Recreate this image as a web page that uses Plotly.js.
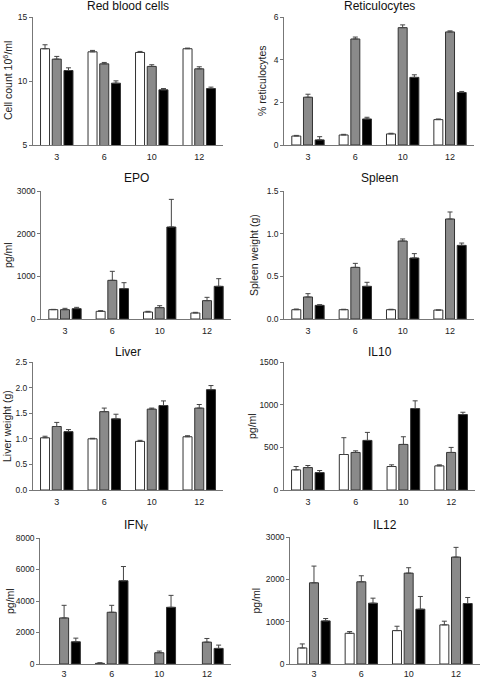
<!DOCTYPE html>
<html>
<head>
<meta charset="utf-8">
<script src="https://cdn.plot.ly/plotly-3.0.1.min.js"></script>
<style>html,body{margin:0;padding:0;background:#fff;}#chart{width:480px;height:677px;}</style>
</head>
<body>
<div id="chart"></div>
<script>
const categories = ['3', '6', '10', '12'];
const seriesNames = ['Control', 'Group 2', 'Group 3'];

// means / upper errors, rows: white, gray, black
const rbcMeans = [[12.52, 12.28, 12.23, 12.52], [11.71, 11.34, 11.14, 10.95], [10.82, 9.83, 9.31, 9.41]];
const rbcErrs  = [[0.31, 0.11, 0.08, 0.05], [0.21, 0.11, 0.13, 0.16], [0.21, 0.18, 0.10, 0.11]];

const reticMeans = [[0.42, 0.47, 0.52, 1.19], [2.24, 4.97, 5.50, 5.30], [0.24, 1.22, 3.17, 2.46]];
const reticErrs  = [[0.03, 0.03, 0.03, 0.03], [0.14, 0.09, 0.13, 0.05], [0.15, 0.08, 0.12, 0.05]];

const epoMeans = [[219, 180, 164, 141], [219, 906, 266, 430], [242, 711, 2156, 766]];
const epoErrs  = [[7, 15, 16, 15], [31, 211, 46, 78], [31, 140, 648, 179]];

const spleenMeans = [[0.109, 0.109, 0.109, 0.105], [0.258, 0.605, 0.914, 1.172], [0.160, 0.383, 0.715, 0.863]];
const spleenErrs  = [[0.008, 0.005, 0.005, 0], [0.039, 0.047, 0.024, 0.082], [0.008, 0.047, 0.051, 0.027]];

const liverMeans = [[1.02, 1.00, 0.95, 1.04], [1.24, 1.53, 1.58, 1.60], [1.14, 1.39, 1.65, 1.96]];
const liverErrs  = [[0.03, 0.01, 0.02, 0.02], [0.08, 0.07, 0.02, 0.07], [0.04, 0.09, 0.09, 0.08]];

const il10Means = [[236, 416, 275, 283], [263, 440, 534, 440], [204, 581, 954, 884]];
const il10Errs  = [[39, 197, 20, 12], [24, 19, 90, 59], [24, 94, 91, 27]];

const ifnMeans = [[null, 42, null, null], [2926, 3284, 716, 1389], [1410, 5284, 3600, 989]];
const ifnErrs  = [[null, 40, null, null], [800, 442, 105, 232], [232, 905, 758, 211]];

const il12Means = [[379, 726, 789, 924], [1918, 1942, 2147, 2526], [1018, 1437, 1295, 1429]];
const il12Errs  = [[95, 40, 103, 87], [395, 142, 127, 229], [56, 118, 300, 142]];

const panelTitles = ['Red blood cells', 'Reticulocytes', 'EPO', 'Spleen', 'Liver', 'IL10', 'IFN<span style="font-size:9px">γ</span>', 'IL12'];
const yTitles = ['Cell count 10<sup>6</sup>/ml', '% reticulocytes', 'pg/ml', 'Spleen weight (g)', 'Liver weight (g)', 'pg/ml', 'pg/ml', 'pg/ml'];
const yRanges = [[5, 15], [0, 6], [0, 3000], [0, 1.5], [0, 2.5], [0, 1500], [0, 8000], [0, 3000]];
const yDticks = [5, 2, 1000, 0.5, 0.5, 500, 2000, 1000];
const yFormats = ['', '', '', '.1f', '.1f', '', '', ''];

const panels = [
  [rbcMeans, rbcErrs], [reticMeans, reticErrs], [epoMeans, epoErrs], [spleenMeans, spleenErrs],
  [liverMeans, liverErrs], [il10Means, il10Errs], [ifnMeans, ifnErrs], [il12Means, il12Errs]
];

// layout geometry (pixels)
const W = 480, H = 677;
const xPix = [[33, 223], [284.3, 473.7], [41.3, 230.7], [284.3, 473.7], [33, 223], [284, 475], [40.3, 230.7], [290.3, 479.7]];
const yPix = [[17, 145], [17, 145], [191, 319], [191, 319], [362, 490], [362, 490], [538, 664], [537, 664]];
const titleY = [6, 6, 178, 178, 352, 352, 525, 525];
const yTitleX = [7, 262, 8, 254, 7, 252, 10, 255];
const xTickLen = [3, 3, 3, 3, 3, 3, 1, 1];

const fills = ['#ffffff', '#8a8a8a', '#000000'];
const font = 'Liberation Sans, Arial, sans-serif';

const traces = [];
const layout = {
  width: W, height: H,
  margin: {l: 0, r: 0, t: 0, b: 0},
  paper_bgcolor: '#fff', plot_bgcolor: '#fff',
  showlegend: false,
  barmode: 'group',
  bargap: 0.26,
  bargroupgap: 0.23,
  font: {family: font, color: '#222', size: 9},
  annotations: []
};

panels.forEach((p, i) => {
  const n = i + 1;
  const xa = 'x' + (n === 1 ? '' : n), ya = 'y' + (n === 1 ? '' : n);
  for (let s = 0; s < 3; s++) {
    traces.push({
      type: 'bar', name: seriesNames[s],
      x: categories, y: p[0][s],
      xaxis: xa, yaxis: ya,
      marker: {color: fills[s], line: {color: '#333', width: 1}},
      error_y: {type: 'data', symmetric: false, array: p[1][s], arrayminus: p[1][s].map(() => 0),
                color: '#444', thickness: 1, width: 2.5}
    });
  }
  layout['xaxis' + (n === 1 ? '' : n)] = {
    domain: [xPix[i][0] / W, xPix[i][1] / W],
    anchor: ya, type: 'category', range: [-0.5, 3.5],
    showline: true, linecolor: '#777', linewidth: 1,
    showgrid: false, zeroline: false,
    ticks: 'outside', ticklen: xTickLen[i], tickcolor: 'rgba(0,0,0,0)',
    tickfont: {family: font, size: 9, color: '#222'}, fixedrange: true
  };
  layout['yaxis' + (n === 1 ? '' : n)] = {
    domain: [1 - yPix[i][1] / H, 1 - yPix[i][0] / H],
    anchor: xa, range: yRanges[i], dtick: yDticks[i], tick0: 0,
    tickformat: yFormats[i],
    showline: true, linecolor: '#777', linewidth: 1,
    showgrid: false, zeroline: false,
    ticks: 'outside', ticklen: 3, tickcolor: '#777',
    tickfont: {family: font, size: 8.5, color: '#222'}, fixedrange: true
  };
  layout.annotations.push({
    text: panelTitles[i], xref: 'paper', yref: 'paper',
    x: (xPix[i][0] + xPix[i][1]) / 2 / W, y: 1 - titleY[i] / H,
    xanchor: 'center', yanchor: 'middle', showarrow: false,
    font: {family: font, size: 12, color: '#111'}
  });
  layout.annotations.push({
    text: yTitles[i], xref: 'paper', yref: 'paper',
    x: yTitleX[i] / W, y: 1 - (yPix[i][0] + yPix[i][1]) / 2 / H,
    xanchor: 'center', yanchor: 'middle', showarrow: false, textangle: -90,
    font: {family: font, size: 10.5, color: '#222'}
  });
});

Plotly.newPlot('chart', traces, layout, {staticPlot: true, displayModeBar: false});
</script>
</body>
</html>
